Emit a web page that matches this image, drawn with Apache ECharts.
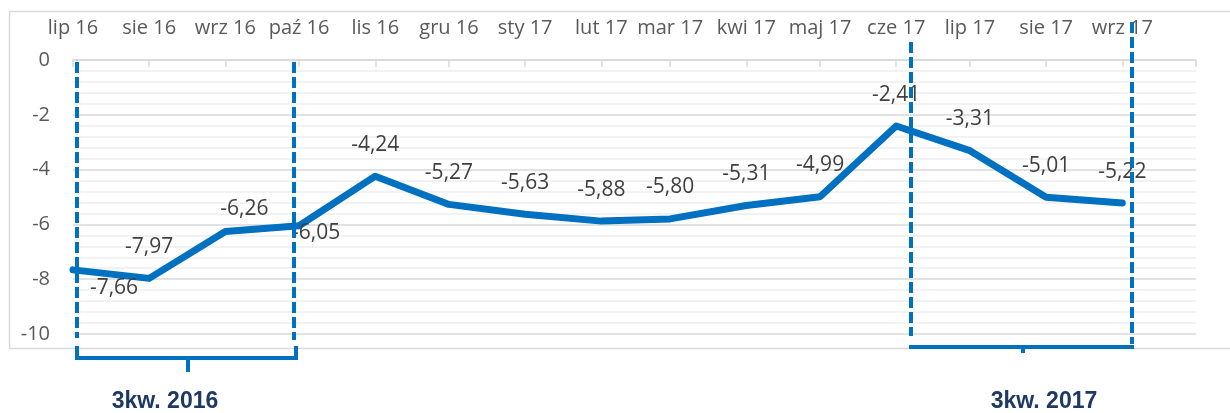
<!DOCTYPE html>
<html>
<head>
<meta charset="utf-8">
<script src="https://cdn.jsdelivr.net/npm/echarts@6/dist/echarts.min.js"></script>
</head>
<body style="margin:0;background:#fff;">
    <div id="chart_container" style="width:1230px;height:413px;"></div>
    <script type="text/javascript">
        // miesiące (etykiety osi) i wartości serii
        var months = ['lip 16', 'sie 16', 'wrz 16', 'paź 16', 'lis 16', 'gru 16', 'sty 17', 'lut 17',
                      'mar 17', 'kwi 17', 'maj 17', 'cze 17', 'lip 17', 'sie 17', 'wrz 17'];
        var values = [-7.66, -7.97, -6.26, -6.05, -4.24, -5.27, -5.63, -5.88,
                      -5.80, -5.31, -4.99, -2.41, -3.31, -5.01, -5.22];
        var quarterLabels = ['3kw. 2016', '3kw. 2017'];

        // os datowa jak w Excelu: dzien liczony od 1 lipca 2016
        var DAY = 86400000;
        var origin = Date.UTC(2016, 6, 1);
        var monthStarts = months.map(function (m, i) { return (Date.UTC(2016, 6 + i, 1) - origin) / DAY; });
        var axisEnd = (Date.UTC(2016, 6 + months.length, 1) - origin) / DAY;

        // etykiety, ktore w oryginale stoja inaczej niz nad punktem (przesuniecie srodka)
        var labelShift = {
            0: [41, 18],
            2: [19, -23],
            3: [17, 7]
        };

        var blue = '#0070C0';
        var SYM = 2;
        var seriesData = values.map(function (v, i) {
            var item = { value: [monthStarts[i], v] };
            var s = labelShift[i];
            if (s) {
                item.label = {
                    position: [s[0] + SYM / 2, s[1] + SYM / 2],
                    align: 'center',
                    verticalAlign: 'middle'
                };
            }
            return item;
        });

        function vline(x, y1, y2, dashed) {
            return {
                type: 'line', z: 100,
                shape: { x1: x, y1: y1, x2: x, y2: y2 },
                style: { stroke: blue, lineWidth: 4, lineDash: dashed ? [11, 4] : null }
            };
        }
        function hline(x1, x2, y) {
            return {
                type: 'line', z: 100,
                shape: { x1: x1, y1: y, x2: x2, y2: y },
                style: { stroke: blue, lineWidth: 4 }
            };
        }

        var dom = document.getElementById('chart_container');
        var myChart = echarts.init(dom);
        var option = {
            animation: false,
            grid: { left: 73, right: 34, top: 60, bottom: 79 },
            xAxis: {
                type: 'value',
                position: 'top',
                min: 0,
                max: axisEnd,
                axisLine: { show: true, lineStyle: { color: '#D9D9D9', width: 1.5 } },
                axisTick: {
                    show: true, inside: true, length: 7,
                    customValues: monthStarts.concat([axisEnd]),
                    lineStyle: { color: '#D9D9D9', width: 1.5 }
                },
                axisLabel: {
                    customValues: monthStarts,
                    margin: 22,
                    fontFamily: 'Open Sans',
                    fontSize: 20,
                    color: '#595959',
                    formatter: function (value) {
                        var idx = monthStarts.indexOf(value);
                        return idx >= 0 ? months[idx] : '';
                    }
                },
                splitLine: { show: false }
            },
            yAxis: {
                type: 'value',
                min: -10,
                max: 0,
                interval: 2,
                axisLine: { show: false },
                axisTick: { show: false },
                axisLabel: {
                    margin: 23,
                    fontFamily: 'Open Sans',
                    fontSize: 20,
                    color: '#595959'
                },
                splitLine: { show: true, lineStyle: { color: '#D9D9D9', width: 1.5 } },
                minorTick: { show: false, splitNumber: 5 },
                minorSplitLine: { show: true, lineStyle: { color: '#EEEEEE', width: 1.5 } }
            },
            series: [{
                type: 'line',
                data: seriesData,
                symbol: 'circle',
                symbolSize: SYM,
                showSymbol: true,
                itemStyle: { color: blue },
                lineStyle: { color: blue, width: 7, cap: 'round', join: 'round' },
                labelLayout: { hideOverlap: false },
                label: {
                    show: true,
                    position: 'top',
                    distance: 20,
                    fontFamily: 'Open Sans',
                    fontSize: 21,
                    color: '#404040',
                    formatter: function (p) {
                        return p.value[1].toFixed(2).replace('.', ',');
                    }
                }
            }],
            graphic: [
                {
                    type: 'rect', z: -1,
                    shape: { x: 9.5, y: 11.5, width: 1240, height: 337 },
                    style: { fill: 'none', stroke: '#D9D9D9', lineWidth: 1.5 }
                },
                // ramka 3kw. 2016
                vline(77, 62, 338, true),
                vline(294, 62, 340, true),
                vline(77, 346, 360, false),
                vline(296, 346, 360, false),
                hline(75, 298, 358),
                vline(188, 358, 372, false),
                // ramka 3kw. 2017
                vline(911, 42, 336, true),
                vline(1132, 22, 344, true),
                hline(909, 1134, 347),
                vline(1023, 347, 353, false),
                {
                    type: 'text', z: 100,
                    style: {
                        x: 165, y: 413, text: quarterLabels[0],
                        fontFamily: 'Liberation Sans', fontSize: 23, fontWeight: 'bold',
                        fill: '#1F3864', textAlign: 'center', textVerticalAlign: 'bottom'
                    }
                },
                {
                    type: 'text', z: 100,
                    style: {
                        x: 1044, y: 413, text: quarterLabels[1],
                        fontFamily: 'Liberation Sans', fontSize: 23, fontWeight: 'bold',
                        fill: '#1F3864', textAlign: 'center', textVerticalAlign: 'bottom'
                    }
                }
            ]
        };
        myChart.setOption(option, true);
    </script>
</body>
</html>
